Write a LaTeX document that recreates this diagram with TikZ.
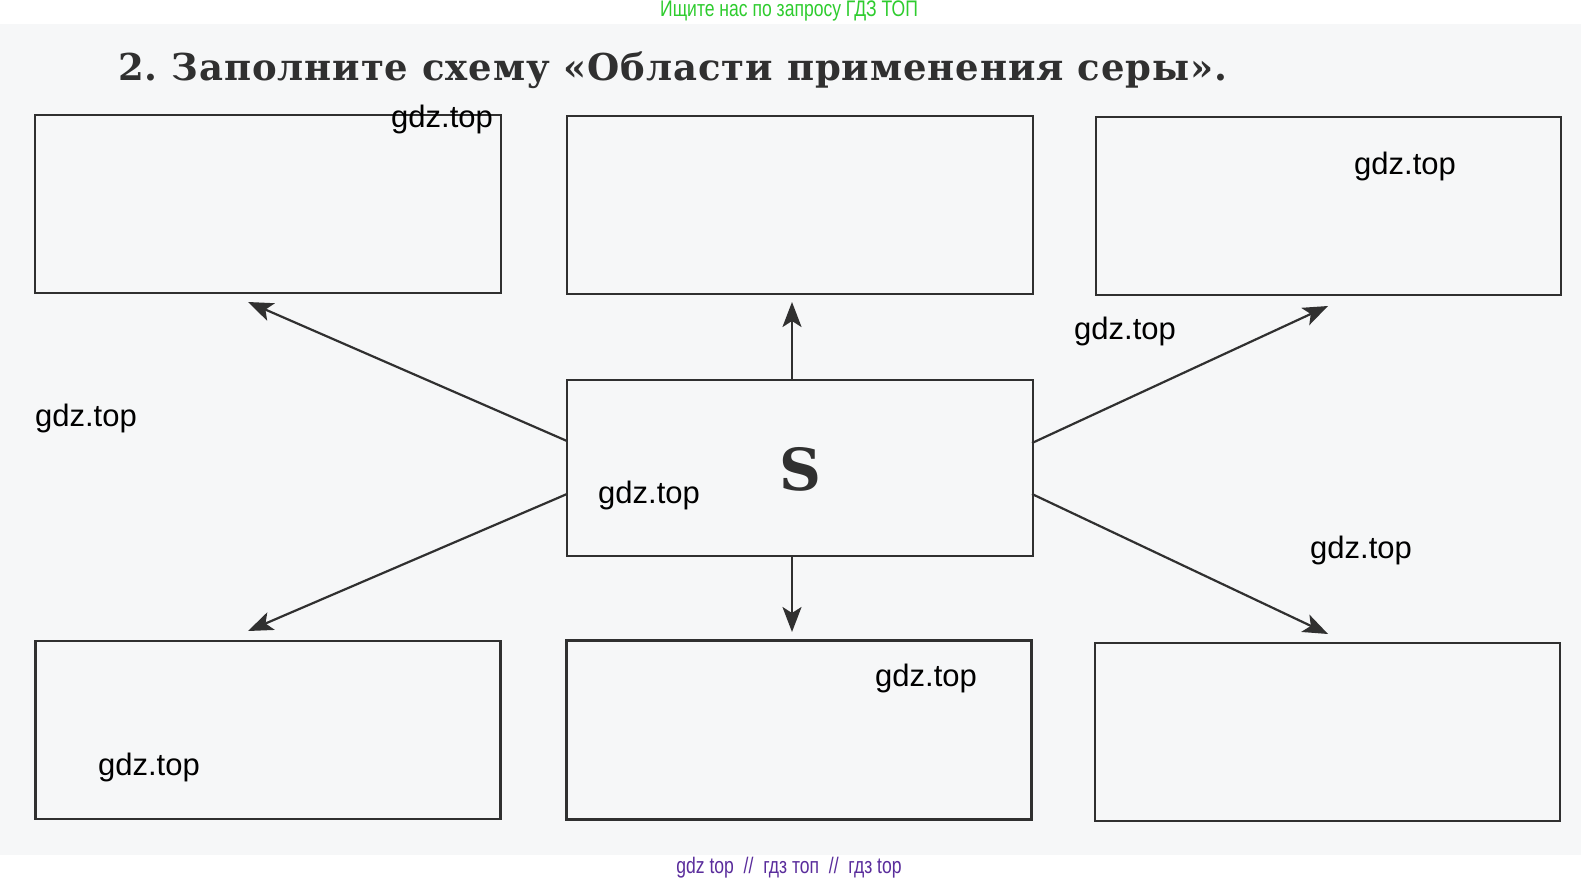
\documentclass[tikz,border=0pt]{standalone}
\usepackage{fontspec}
\setmainfont{DejaVu Serif}
\newfontfamily\titlefont[LetterSpace=2.5]{DejaVu Serif}
\newfontfamily\sfont{DejaVu Serif}
\newfontfamily\wmfont{Liberation Sans}
\newfontfamily\narrowfont[FakeStretch=0.78]{Liberation Sans}
\usetikzlibrary{arrows.meta}
\definecolor{inkc}{HTML}{303030}
\definecolor{scanbg}{HTML}{F6F7F8}
\definecolor{topgreen}{HTML}{2ECC2E}
\definecolor{botpurple}{HTML}{5A2D9C}
\tikzset{
  answerbox/.style={draw=inkc, line width=2.2pt, minimum width=466pt, minimum height=178pt, inner sep=0pt, outer sep=0pt},
  arr/.style={draw=inkc, line width=2.2pt, -{Stealth[length=25pt,width=19pt,inset=6pt]}},
  wm/.style={font=\wmfont\fontsize{31}{33}\selectfont, text=black, inner sep=0pt}
}
\begin{document}
\begin{tikzpicture}[x=1pt,y=-1pt]
\useasboundingbox (0,0) rectangle (1581,883);
\fill[white] (0,0) rectangle (1581,883);
\fill[scanbg] (0,24) rectangle (1581,855);
% header / footer
\node[font=\narrowfont\fontsize{22.5}{24}\selectfont, text=topgreen] (hdr) at (789,11) {Ищите нас по запросу ГДЗ ТОП};
\node[font=\narrowfont\fontsize{22.5}{24}\selectfont, text=botpurple] (ftr) at (789,868) {gdz top\ \ //\ \ гдз топ\ \ //\ \ гдз top};
% title
\node[anchor=base west, inner sep=0pt, text=inkc, font=\titlefont\bfseries\fontsize{37}{40}\selectfont] (title) at (118,81) {2.\ Заполните\ схему\ «Области\ применения\ серы».};
% boxes
\node[answerbox] (tl) at (268,204) {};
\node[answerbox] (tm) at (800,205) {};
\node[answerbox, minimum width=465pt] (tr) at (1328.5,206) {};
\node[answerbox, minimum height=176pt] (c) at (800,468) {};
\node[answerbox, minimum width=465pt] (bl) at (268,730) {};
\node[answerbox, minimum width=465pt, minimum height=179pt] (bm) at (799,730) {};
\node[answerbox, minimum width=465pt] (br) at (1327.5,732) {};
\node[font=\sfont\bfseries\fontsize{58}{60}\selectfont, text=inkc, inner sep=0pt] (S) at (800,469) {S};
% arrow ends
\coordinate (s1) at (567,441);
\coordinate (s2) at (792,380);
\coordinate (s3) at (1032,443);
\coordinate (s4) at (567,494);
\coordinate (s5) at (792,556);
\coordinate (s6) at (1032,494);
\coordinate (t1) at (248,302);
\coordinate (t2) at (792,302);
\coordinate (t3) at (1328,306);
\coordinate (t4) at (248,631);
\coordinate (t5) at (792,632);
\coordinate (t6) at (1328,634);
\draw[arr] (s1) -- (t1);
\draw[arr] (s2) -- (t2);
\draw[arr] (s3) -- (t3);
\draw[arr] (s4) -- (t4);
\draw[arr] (s5) -- (t5);
\draw[arr] (s6) -- (t6);
% watermarks
\node[wm] (w1) at (442,119) {gdz.top};
\node[wm] (w2) at (1405,166) {gdz.top};
\node[wm] (w3) at (86,418) {gdz.top};
\node[wm] (w4) at (1125,331) {gdz.top};
\node[wm] (w5) at (649,495) {gdz.top};
\node[wm] (w6) at (1361,550) {gdz.top};
\node[wm] (w7) at (926,678) {gdz.top};
\node[wm] (w8) at (149,767) {gdz.top};
\end{tikzpicture}
\end{document}
